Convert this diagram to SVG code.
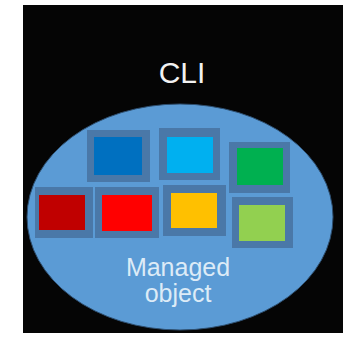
<svg xmlns="http://www.w3.org/2000/svg" width="350" height="343" viewBox="0 0 350 343">
<style>
.frame{fill:#4A78A8}
.t{font-family:"Liberation Sans",Arial,sans-serif;text-anchor:middle}
</style>
<rect width="350" height="343" fill="#fff"/>
<g id="cli">
<rect x="23" y="5" width="320" height="328" fill="#050505"/>
<text class="t" x="182" y="83" font-size="30" fill="#F2F2F2">CLI</text>
</g>
<g id="managed-object">
<ellipse cx="180" cy="217" rx="153" ry="113" fill="#5B9BD5" stroke="#2E4F70" stroke-width="1"/>
<text class="t" x="178" y="276" font-size="25" fill="#DDEBF7">Managed</text>
<text class="t" x="178" y="302" font-size="25" fill="#DDEBF7">object</text>
</g>
<g id="box-blue"><rect class="frame" x="87" y="130" width="63" height="52"/><rect x="94" y="137" width="48" height="38" fill="#0070C0"/></g>
<g id="box-lightblue"><rect class="frame" x="159" y="128" width="61" height="52"/><rect x="167" y="137" width="46" height="36" fill="#00B0F0"/></g>
<g id="box-green"><rect class="frame" x="229" y="142" width="61" height="51"/><rect x="237" y="148" width="46" height="37" fill="#00B050"/></g>
<g id="box-darkred"><rect class="frame" x="35" y="187" width="58" height="51"/><rect x="39" y="195" width="46" height="35" fill="#C00000"/></g>
<g id="box-red"><rect class="frame" x="95" y="187" width="64" height="51"/><rect x="102" y="195" width="50" height="36" fill="#FF0000"/></g>
<g id="box-yellow"><rect class="frame" x="163" y="185" width="63" height="51"/><rect x="171" y="193" width="46" height="35" fill="#FFC000"/></g>
<g id="box-lightgreen"><rect class="frame" x="232" y="197" width="61" height="51"/><rect x="239" y="205" width="46" height="36" fill="#92D050"/></g>
</svg>
